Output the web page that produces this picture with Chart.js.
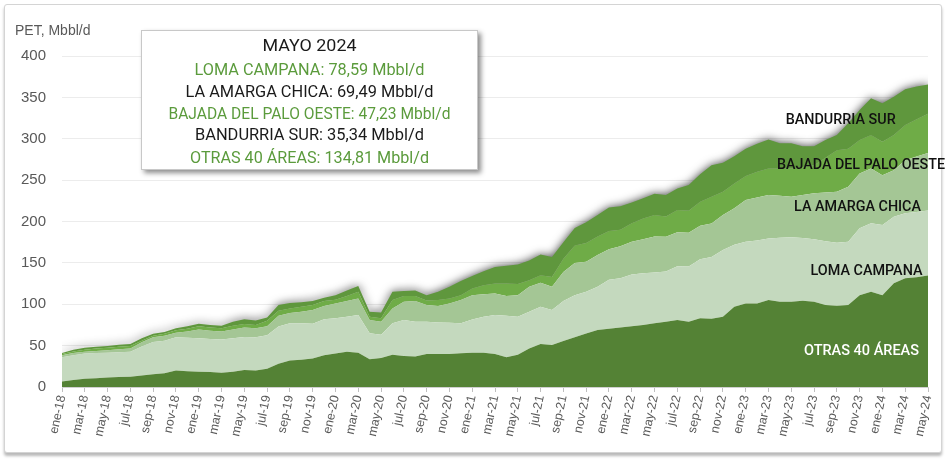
<!DOCTYPE html>
<html>
<head>
<meta charset="utf-8">
<script src="https://cdn.jsdelivr.net/npm/chart.js@4.4.1/dist/chart.umd.min.js"></script>
<style>
html,body{margin:0;padding:0;background:#fff;}
#frame{position:absolute;left:4px;top:4px;width:936px;height:447px;border:1px solid #d4d4d4;border-radius:3px;box-shadow:0 3px 3px rgba(0,0,0,0.28);background:#fff;}
#wrap{position:absolute;left:0;top:0;width:947px;height:459px;}
</style>
</head>
<body>
<div id="frame"></div>
<div id="wrap"><canvas id="c" width="947" height="459"></canvas></div>
<script>
// ---- categories ----
const monthAbbr = ['ene','feb','mar','abr','may','jun','jul','ago','sep','oct','nov','dic'];
const months = [];
for (let y = 2018; y <= 2024; y++) {
  for (let m = 0; m < 12; m++) {
    if (y === 2024 && m > 4) break;
    months.push(monthAbbr[m] + '-' + String(y).slice(2));
  }
}

// ---- series (Mbbl/d) ----
const otras40 = [
  6.5, 8.5, 10, 10.5, 11.5, 12, 12.5, 14, 15.5, 16.5,
  20, 19, 18.5, 18, 17.3, 18.5, 20.5, 20, 22, 28,
  32, 33, 34.5, 38.5, 40.5, 42.5, 41.5, 33.5, 35, 39,
  37.5, 37, 40, 40, 40, 40.7, 41.5, 41.5, 40, 36,
  39, 46.5, 52, 50.8, 55.5, 60, 64.8, 68.9, 70.5, 72,
  73.5, 75, 77, 78.9, 81, 79, 83, 82.5, 85, 97,
  101, 101, 105, 103, 103, 104.3, 103, 99, 98.3, 99,
  111, 115, 111, 125.3, 131.3, 132.5, 134.81
];
const lomaCampana = [
  29.5, 30, 30.5, 30.5, 30, 30, 30, 35, 39, 39.5,
  40, 40.5, 40.5, 40, 40.2, 40.5, 40, 40, 40.5, 45,
  45, 44, 42, 43.5, 42.5, 42.5, 45.5, 31.5, 28, 38,
  43.5, 42, 39, 38, 37.5, 36.3, 40, 43.5, 47, 50,
  46, 44.5, 45, 42.2, 48.5, 51, 50.2, 52.1, 59, 59.3,
  62.5, 62.5, 61.5, 60.6, 65, 66.5, 71.5, 74.5, 80.6, 75,
  74.6, 76, 74.6, 77.5, 78, 75.7, 75.5, 77, 76.1, 76.6,
  80.8, 82.8, 84.8, 80.5, 78.6, 79, 78.59
];
const laAmargaChica = [
  2.5, 2.5, 2.2, 2.5, 3, 3.5, 4, 5, 5.5, 6,
  5.5, 7.5, 10.5, 10, 9.5, 10.5, 11.5, 11, 11, 13,
  12.5, 14, 16.5, 16, 18, 19, 20, 16, 16, 18,
  22, 25, 20, 20, 23.5, 28, 29.5, 27, 26, 24,
  26, 30, 29, 28, 35, 39, 36.5, 38.5, 37, 38.7,
  39.6, 41, 43.5, 42, 41, 41, 40.5, 40.5, 42.4, 44,
  50.4, 52, 52.4, 50.5, 49, 52, 55.5, 59, 61.6, 66.4,
  66.2, 66.2, 60.2, 56.2, 64.1, 67, 69.49
];
const bajadaPaloOeste = [
  1.5, 2, 2.3, 3, 3, 3, 3, 2, 2, 2.5,
  3, 3.5, 4, 4, 4, 4.5, 4, 4, 6.5, 6,
  5.5, 6, 6, 6, 4.5, 6, 8, 4, 4, 10,
  7, 6, 5.5, 7, 6, 6, 8, 11, 12, 15,
  13.5, 8, 9, 12, 16, 21, 22.5, 22.5, 22, 20,
  22.4, 25, 26, 24.5, 27, 26.5, 29, 32.5, 28, 30,
  29, 31, 32, 33, 34, 34, 34, 42, 50, 46,
  40.5, 40.5, 40.5, 42.5, 42.6, 45, 47.23
];
const bandurriaSur = [
  1, 2, 2.5, 2, 2, 2.5, 2.5, 3, 2.5, 2,
  2.5, 3, 3, 3, 3, 5, 6, 5.5, 4, 7,
  6.5, 5.5, 5, 4, 5.5, 6.5, 7, 6, 7, 10,
  6, 6.5, 6.5, 10, 14, 17, 15, 17, 20, 21.5,
  23.5, 24, 25, 24, 20, 21, 25, 26, 28.5, 28.5,
  25, 24.5, 25.5, 26, 26, 31, 33, 38, 35, 33,
  33, 34, 35, 30.5, 30.5, 25, 23, 21.5, 18.5, 30.6,
  36.2, 44.3, 46.3, 46.3, 43.1, 39.5, 35.34
];

// ---- texts ----
const seriesNames = ['OTRAS 40 ÁREAS', 'LOMA CAMPANA', 'LA AMARGA CHICA', 'BAJADA DEL PALO OESTE', 'BANDURRIA SUR'];
const yTitle = 'PET, Mbbl/d';
const boxTitle = 'MAYO 2024';
const unit = 'Mbbl/d';

const seriesData = [otras40, lomaCampana, laAmargaChica, bajadaPaloOeste, bandurriaSur];
const colors = ['#548235', '#c4d9be', '#a4c695', '#6fac47', '#5f973d'];

const fmt = v => v.toFixed(2).replace('.', ',');

const datasets = seriesData.map((d, i) => ({
  label: seriesNames[i],
  data: d,
  backgroundColor: colors[i],
  borderColor: 'rgba(0,0,0,0)',
  borderWidth: 0,
  pointRadius: 0,
  tension: 0,
  fill: i === 0 ? 'origin' : '-1'
}));

function fitText(ctx, text, cx, capCy, width, size, weight, color) {
  ctx.save();
  ctx.font = weight + ' ' + size + 'px Roboto';
  ctx.fillStyle = color;
  ctx.textAlign = 'center';
  ctx.textBaseline = 'alphabetic';
  const w = ctx.measureText(text).width;
  ctx.translate(cx, capCy + size * 0.355);
  ctx.scale(width / w, 1);
  ctx.fillText(text, 0, 0);
  ctx.restore();
}

const shadowPlugin = {
  id: 'areaShadow',
  beforeDatasetsDraw(chart) {
    const c = chart.ctx;
    c.save();
    c.shadowColor = 'rgba(0,0,0,0.75)';
    c.shadowBlur = 10;
    c.shadowOffsetX = 0;
    c.shadowOffsetY = 0;
  },
  afterDatasetDraw(chart, args) {
    if (args.index === 4) {
      chart.ctx.shadowColor = 'rgba(0,0,0,0)';
      chart.ctx.shadowBlur = 0;
    }
  },
  afterDatasetsDraw(chart) { chart.ctx.restore(); }
};

const textPlugin = {
  id: 'texts',
  afterDraw(chart) {
    const ctx = chart.ctx;
    // axis title
    ctx.save();
    ctx.font = '14px "Liberation Sans"';
    ctx.fillStyle = '#595959';
    ctx.textAlign = 'left';
    ctx.textBaseline = 'middle';
    ctx.fillText(yTitle, 15, 31);
    ctx.restore();

    // series labels at right
    fitText(ctx, seriesNames[4], 840.7, 119, 110, 15, 500, '#111111');
    fitText(ctx, seriesNames[3], 861, 164, 168, 15, 500, '#111111');
    fitText(ctx, seriesNames[2], 857.5, 206, 127, 15, 500, '#111111');
    fitText(ctx, seriesNames[1], 866.5, 269.5, 112, 15, 500, '#111111');
    fitText(ctx, seriesNames[0], 861.5, 350, 115, 15, 500, '#ffffff');

    // annotation box
    ctx.save();
    ctx.shadowColor = 'rgba(0,0,0,0.45)';
    ctx.shadowBlur = 5;
    ctx.shadowOffsetX = 3;
    ctx.shadowOffsetY = 3;
    ctx.fillStyle = '#ffffff';
    ctx.fillRect(141, 30, 337, 140);
    ctx.restore();
    ctx.save();
    ctx.strokeStyle = '#c8c8c8';
    ctx.lineWidth = 1;
    ctx.strokeRect(141.5, 30.5, 336, 139);
    ctx.restore();

    const last = arr => arr[arr.length - 1];
    const green = '#5b9b3c', black = '#1a1a1a';
    fitText(ctx, boxTitle, 309.5, 45.5, 94, 16, 400, black);
    fitText(ctx, seriesNames[1] + ': ' + fmt(last(lomaCampana)) + ' ' + unit, 309.5, 69, 230, 16, 400, green);
    fitText(ctx, seriesNames[2] + ': ' + fmt(last(laAmargaChica)) + ' ' + unit, 309.5, 91, 248, 16, 400, black);
    fitText(ctx, seriesNames[3] + ': ' + fmt(last(bajadaPaloOeste)) + ' ' + unit, 309.5, 113, 282, 16, 400, green);
    fitText(ctx, seriesNames[4] + ': ' + fmt(last(bandurriaSur)) + ' ' + unit, 309.5, 134.5, 229, 16, 400, black);
    fitText(ctx, seriesNames[0] + ': ' + fmt(last(otras40)) + ' ' + unit, 309.5, 157, 239, 16, 400, green);
  }
};

new Chart(document.getElementById('c'), {
  type: 'line',
  data: { labels: months, datasets: datasets },
  options: {
    responsive: false,
    animation: false,
    devicePixelRatio: 1,
    layout: { padding: { left: 10, right: 19, top: 56, bottom: 0 } },
    plugins: { legend: { display: false }, tooltip: { enabled: false } },
    scales: {
      x: {
        grid: {
          drawOnChartArea: false,
          drawTicks: true,
          tickLength: 5,
          color: (c) => (c.index % 2 === 0 ? '#bfbfbf' : 'rgba(0,0,0,0)')
        },
        border: { display: true, color: '#d0d0d0' },
        ticks: {
          autoSkip: false,
          minRotation: 78,
          maxRotation: 78,
          padding: 2,
          color: '#595959',
          font: { family: '"Liberation Sans"', size: 12.5 },
          callback: function (v, i) { return i % 2 === 0 ? this.getLabelForValue(v) : ''; }
        },
        afterFit: (s) => { s.height = 72; }
      },
      y: {
        stacked: true,
        min: 0,
        max: 400,
        ticks: { stepSize: 50, color: '#595959', padding: 16, font: { family: '"Liberation Sans"', size: 15 } },
        grid: { color: '#ececec', drawTicks: false },
        border: { display: false },
        afterFit: (s) => { s.width = 52; }
      }
    }
  },
  plugins: [shadowPlugin, textPlugin]
});
</script>
</body>
</html>
